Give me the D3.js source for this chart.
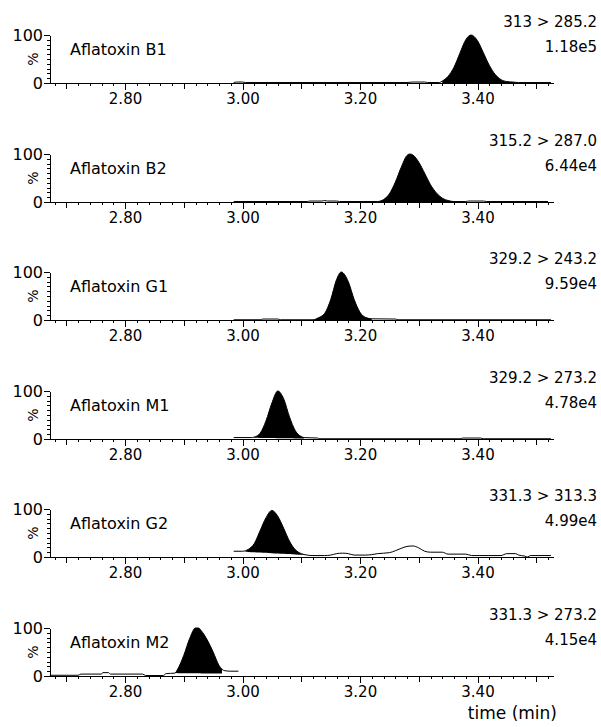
<!DOCTYPE html>
<html lang="en">
<head>
    <meta charset="UTF-8">
    <title>Aflatoxin MRM chromatograms</title>
    <script src="https://d3js.org/d3.v7.min.js"></script>
    <style>
        body { margin: 0; background: #fff; }
        svg { display: block; font-family: "DejaVu Sans", Verdana, sans-serif; }
        .trace { fill: none; stroke: #000; stroke-width: 1; }
        .peak { fill: #000; stroke: none; }
        .axis path, .axis line { stroke: #000; shape-rendering: crispEdges; }
    </style>
</head>
<body>
<div id="chart"></div>
<script>
// Compound names, MRM transitions and peak intensities
const compounds = ["Aflatoxin B1", "Aflatoxin B2", "Aflatoxin G1", "Aflatoxin M1", "Aflatoxin G2", "Aflatoxin M2"];
const transitions = ["313 > 285.2", "315.2 > 287.0", "329.2 > 243.2", "329.2 > 273.2", "331.3 > 313.3", "331.3 > 273.2"];
const intensities = ["1.18e5", "6.44e4", "9.59e4", "4.78e4", "4.99e4", "4.15e4"];
const timeTicks = [2.80, 3.00, 3.20, 3.40];
const pctTicks = [0, 100];

// Traces, [time (min), % of max]
const traceB1 = [[2.985,1],[2.99,2],[3.00,2],[3.005,1],[3.28,1],[3.29,2],[3.31,2],[3.315,1],[3.335,1],
    [3.34,4],[3.35,14],[3.36,33],[3.37,62],[3.38,90],[3.389,100],[3.40,88],[3.41,63],[3.42,37],[3.43,18],
    [3.44,7],[3.45,3],[3.46,2],[3.47,1],[3.525,1]];
const traceB2 = [[2.985,1],[3.11,1],[3.115,2],[3.135,2],[3.14,3],[3.145,2],[3.16,2],[3.165,1],[3.23,1],
    [3.24,5],[3.25,17],[3.26,41],[3.27,72],[3.28,97],[3.285,100],[3.29,98],[3.30,83],[3.31,60],[3.32,36],
    [3.33,19],[3.34,8],[3.35,3],[3.36,1],[3.38,1],[3.385,2],[3.41,2],[3.415,1],[3.52,1]];
const traceG1 = [[2.985,0.5],[3.03,0.5],[3.035,2],[3.06,2],[3.065,0.5],[3.12,0.5],[3.125,2],[3.13,5],
    [3.14,14],[3.15,42],[3.16,84],[3.168,100],[3.18,80],[3.19,43],[3.20,16],[3.21,5],[3.22,2.5],[3.26,2],
    [3.265,0.5],[3.525,0.5]];
const traceM1 = [[2.985,3],[3.015,3],[3.02,4],[3.03,12],[3.04,38],[3.05,75],[3.06,100],[3.07,84],[3.08,46],
    [3.09,17],[3.10,5],[3.105,3],[3.128,2],[3.13,0.5],[3.37,0.5],[3.375,2],[3.405,2],[3.41,0.5],[3.525,0.5]];
const traceG2 = [[2.985,12],[3.00,12],[3.005,13],[3.01,16],[3.02,28],[3.03,55],[3.04,82],[3.05,97],
    [3.06,85],[3.07,60],[3.08,33],[3.09,15],[3.10,7],[3.11,4],[3.12,3],[3.14,3],[3.15,4],[3.16,7],[3.17,8],
    [3.18,7],[3.19,4],[3.21,4],[3.22,5],[3.23,7],[3.25,9],[3.26,13],[3.27,18],[3.28,22],[3.29,23],[3.30,19],
    [3.31,12],[3.32,10],[3.34,10],[3.35,6],[3.38,6],[3.39,3],[3.44,3],[3.45,7],[3.465,7],[3.47,4],[3.48,2],
    [3.485,0],[3.49,3],[3.525,3]];
const traceM2 = [[2.672,1.5],[2.72,1.5],[2.725,4],[2.76,4],[2.762,7],[2.772,7],[2.775,4],[2.83,4],[2.835,1],
    [2.865,1],[2.87,5],[2.885,6],[2.89,15],[2.90,43],[2.91,78],[2.92,100],[2.925,100],[2.93,94],[2.94,75],
    [2.95,50],[2.96,22],[2.965,14],[2.97,11],[2.98,10],[2.993,10]];
const traces = [traceB1, traceB2, traceG1, traceM1, traceG2, traceM2];

// Integrated peak: [start, end, baseline % at start, baseline % at end]
const peakWindows = [[3.34, 3.47, 0, 0], [3.23, 3.36, 0, 0], [3.12, 3.22, 0, 0],
    [3.02, 3.105, 2.5, 1], [3.005, 3.11, 11, 4], [2.885, 2.965, 6, 5]];

const W = 601, H = 727;
const plotH = 48;           // 0..100 % height of each panel
const firstBase = 83, step = 118.5;

const svg = d3.select('#chart').append('svg')
    .attr('width', W)
    .attr('height', H);

const x = d3.scaleLinear().domain([2.6723, 3.5285]).range([50, 553]);
const minorTicks = d3.range(134, 177).map(i => i / 50);
const midTicks = d3.range(27, 36).map(i => i / 10);

compounds.forEach((name, i) => {
    const base = Math.round(firstBase + i * step);
    const y = d3.scaleLinear().domain([0, 100]).range([base, base - plotH]);
    const g = svg.append('g');

    // peak fill between trace and integration baseline
    const [t0, t1, b0, b1] = peakWindows[i];
    const baseLine = d3.scaleLinear().domain([t0, t1]).range([b0, b1]);
    const inPeak = traces[i].filter(d => d[0] >= t0 - 1e-9 && d[0] <= t1 + 1e-9);
    g.append('path')
        .datum(inPeak)
        .attr('class', 'peak')
        .attr('d', d3.area()
            .x(d => x(d[0]))
            .y0(d => y(baseLine(d[0])))
            .y1(d => y(d[1]))
            .curve(d3.curveMonotoneX));

    g.append('path')
        .datum(traces[i])
        .attr('class', 'trace')
        .attr('d', d3.line()
            .x(d => x(d[0]))
            .y(d => y(d[1]))
            .curve(d3.curveMonotoneX));

    // x axis: minor, mid and labelled ticks
    g.append('g')
        .attr('class', 'axis')
        .attr('transform', `translate(0,${base})`)
        .call(d3.axisBottom(x).tickValues(minorTicks).tickSize(3).tickSizeOuter(0).tickFormat(''));
    g.append('g')
        .attr('class', 'axis')
        .attr('transform', `translate(0,${base})`)
        .call(d3.axisBottom(x).tickValues(midTicks).tickSize(6).tickFormat(''))
        .call(a => a.select('.domain').remove());
    g.append('g')
        .attr('class', 'axis')
        .attr('transform', `translate(0,${base})`)
        .call(d3.axisBottom(x).tickValues(timeTicks).tickSize(7).tickPadding(3).tickFormat(d3.format('.2f')))
        .call(a => a.select('.domain').remove())
        .call(a => a.selectAll('text').attr('font-size', 15).attr('font-family', '"DejaVu Sans", Verdana, sans-serif').attr('fill', '#000'));

    // y axis
    g.append('g')
        .attr('class', 'axis')
        .attr('transform', 'translate(50,0)')
        .call(d3.axisLeft(y).tickValues(d3.range(0, 101, 10)).tickSize(3).tickSizeOuter(0).tickFormat(''));
    g.append('g')
        .attr('class', 'axis')
        .attr('transform', 'translate(50,0)')
        .call(d3.axisLeft(y).tickValues(pctTicks).tickSize(6).tickPadding(1).tickFormat(d3.format('d')))
        .call(a => a.select('.domain').remove())
        .call(a => a.selectAll('text').attr('font-size', 16).attr('font-family', '"DejaVu Sans", Verdana, sans-serif').attr('fill', '#000'));

    g.append('text')
        .attr('transform', `translate(38,${base - 24}) rotate(-90)`)
        .attr('text-anchor', 'middle')
        .attr('font-size', 14)
        .text('%');

    g.append('text')
        .attr('x', 70)
        .attr('y', base - 28)
        .attr('font-size', 16)
        .text(name);

    g.append('text')
        .attr('x', 597)
        .attr('y', base - 56)
        .attr('text-anchor', 'end')
        .attr('font-size', 15)
        .text(transitions[i]);

    g.append('text')
        .attr('x', 597)
        .attr('y', base - 31)
        .attr('text-anchor', 'end')
        .attr('font-size', 15)
        .text(intensities[i]);
});

svg.append('text')
    .attr('x', 557)
    .attr('y', 719)
    .attr('text-anchor', 'end')
    .attr('font-size', 17)
    .text('time (min)');
</script>
</body>
</html>
